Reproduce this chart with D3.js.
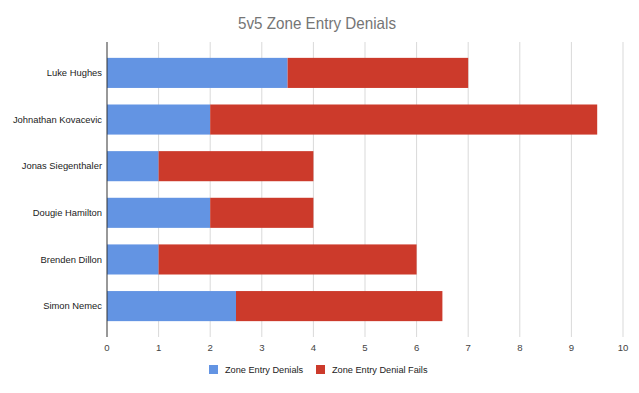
<!DOCTYPE html>
<html><head><meta charset="utf-8">
<script src="https://cdn.jsdelivr.net/npm/d3@7"></script>
<style>body{margin:0;background:#fff}svg{display:block;font-family:"Liberation Sans",Arial,sans-serif}</style>
</head><body><svg id="c" width="639" height="393"></svg>
<script>
const players = ["Luke Hughes","Johnathan Kovacevic","Jonas Siegenthaler","Dougie Hamilton","Brenden Dillon","Simon Nemec"];
const denials = [3.5, 2, 1, 2, 1, 2.5];
const denialFails = [3.5, 7.5, 3, 2, 5, 4];
const seriesNames = ["Zone Entry Denials","Zone Entry Denial Fails"];
const xTicks = [0,1,2,3,4,5,6,7,8,9,10];
const colors = ["#6394e3","#cc3a2b"];

(function(){
const svg = d3.select("#c");
const pL = 107, pR = 623, pT = 42, pB = 337;
const x = d3.scaleLinear().domain([0,10]).range([pL,pR]);
const y = d3.scaleBand().domain(players).range([pT,pB]).paddingInner(0.355).paddingOuter(0.34);

svg.append("text").attr("x",317).attr("y",29).attr("text-anchor","middle")
  .attr("font-size",16.5).attr("fill","#757575").text("5v5 Zone Entry Denials")
  .attr("textLength",158).attr("lengthAdjust","spacingAndGlyphs");

svg.append("g").selectAll("line").data(xTicks.filter(d=>d>0)).join("line")
  .attr("x1",d=>x(d)).attr("x2",d=>x(d)).attr("y1",pT).attr("y2",pB)
  .attr("stroke","#d9d9d9").attr("stroke-width",1);

const data = players.map((p,i)=>({p, a:denials[i], b:denialFails[i]}));
const g = svg.append("g");
g.selectAll("rect.a").data(data).join("rect").attr("class","a")
  .attr("x",x(0)).attr("y",d=>y(d.p)).attr("width",d=>x(d.a)-x(0)).attr("height",y.bandwidth())
  .attr("fill",colors[0]);
g.selectAll("rect.b").data(data).join("rect").attr("class","b")
  .attr("x",d=>x(d.a)).attr("y",d=>y(d.p)).attr("width",d=>x(d.a+d.b)-x(d.a)).attr("height",y.bandwidth())
  .attr("fill",colors[1]);

svg.append("line").attr("x1",x(0)).attr("x2",x(0)).attr("y1",pT).attr("y2",pB)
  .attr("stroke","#333").attr("stroke-width",1);

svg.append("g").selectAll("text").data(players).join("text")
  .attr("x",pL-5).attr("y",d=>y(d)+y.bandwidth()/2).attr("dy","0.35em")
  .attr("text-anchor","end").attr("font-size",9.4).attr("fill","#222").text(d=>d);

svg.append("g").selectAll("text").data(xTicks).join("text")
  .attr("x",d=>x(d)).attr("y",351).attr("text-anchor","middle")
  .attr("font-size",9.6).attr("fill","#444").text(d=>d);

const leg = [{n:seriesNames[0],c:colors[0],x:209},{n:seriesNames[1],c:colors[1],x:316}];
const lg = svg.append("g");
lg.selectAll("rect").data(leg).join("rect").attr("x",d=>d.x).attr("y",365).attr("width",9).attr("height",9).attr("fill",d=>d.c);
lg.selectAll("text").data(leg).join("text").attr("x",d=>d.x+16).attr("y",373)
  .attr("font-size",9.2).attr("fill","#222").text(d=>d.n);
})();
</script></body></html>
